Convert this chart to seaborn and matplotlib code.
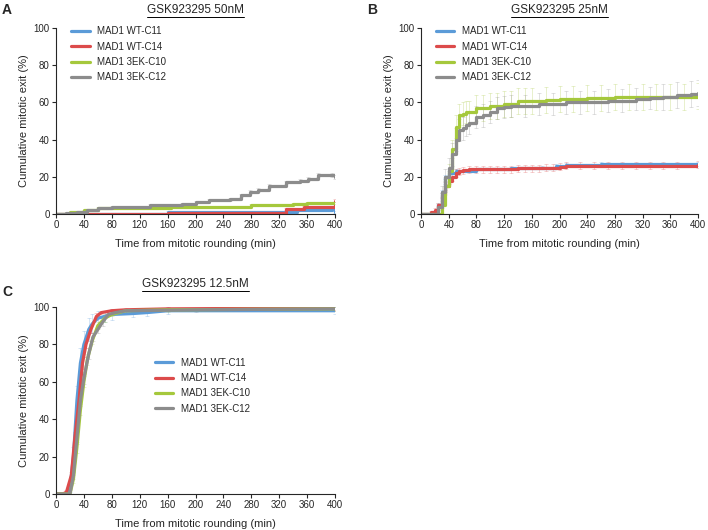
import numpy as np
import pandas as pd
import matplotlib
matplotlib.use("Agg")
import matplotlib.pyplot as plt
import seaborn as sns
from matplotlib.lines import Line2D

# clone names and colours
clones = ["MAD1 WT-C11", "MAD1 WT-C14", "MAD1 3EK-C10", "MAD1 3EK-C12"]
colors = ["#5b9bd8", "#dc4b4b", "#a5c83c", "#8c8c8c"]

# panel A: 50nM (time, cumulative %)
a_t = {
    "MAD1 WT-C11": [0, 150, 160, 345, 395, 400],
    "MAD1 WT-C14": [0, 160, 240, 330, 355, 395, 400],
    "MAD1 3EK-C10": [0, 20, 40, 60, 165, 240, 280, 340, 360, 400],
    "MAD1 3EK-C12": [0, 15, 30, 45, 60, 80, 135, 180, 200, 220, 250, 265, 278, 290, 305, 330, 350, 362, 375, 395, 400],
}
a_y = {
    "MAD1 WT-C11": [0, 0, 1, 2, 3, 1],
    "MAD1 WT-C14": [0, 0.3, 0.8, 2.5, 4, 4, 7],
    "MAD1 3EK-C10": [0, 1, 2, 3, 3.5, 4, 5, 5.5, 6, 6],
    "MAD1 3EK-C12": [0, 0.5, 1, 2, 3, 4, 5, 5.5, 6.5, 7.5, 8, 10, 12, 13, 15, 17, 18, 19, 21, 21, 20],
}
a_err = {
    "MAD1 WT-C11": [0, 0, 0.5, 0.5, 0.5, 0.5],
    "MAD1 WT-C14": [0, 0.3, 0.3, 0.5, 0.5, 0.5, 0.8],
    "MAD1 3EK-C10": [0, 0.3, 0.3, 0.4, 0.4, 0.5, 0.5, 0.5, 0.5, 0.5],
    "MAD1 3EK-C12": [0, 0.3, 0.3, 0.4, 0.5, 0.5, 0.6, 0.6, 0.7, 0.7, 0.8, 0.8, 1, 1, 1, 1, 1, 1, 1, 1, 1],
}

# panel B: 25nM
b_t = {
    "MAD1 WT-C11": [0, 20, 25, 30, 35, 40, 50, 80, 130, 175, 195, 210, 260, 400],
    "MAD1 WT-C14": [0, 10, 15, 20, 25, 30, 35, 40, 45, 50, 55, 60, 70, 80, 90, 100, 110, 120, 130, 140, 150,
                    160, 170, 180, 190, 200, 210, 230, 250, 270, 290, 310, 330, 350, 370, 400],
    "MAD1 3EK-C10": [0, 25, 30, 35, 40, 45, 50, 55, 60, 65, 70, 80, 90, 100, 110, 120, 130, 140, 150, 160,
                     180, 200, 220, 240, 260, 280, 300, 320, 340, 360, 380, 400],
    "MAD1 3EK-C12": [0, 20, 25, 30, 35, 40, 45, 50, 55, 60, 65, 70, 80, 90, 100, 110, 120, 130, 150, 170,
                     190, 210, 230, 250, 270, 290, 310, 330, 350, 370, 390, 400],
}
b_y = {
    "MAD1 WT-C11": [0, 0, 5, 12, 20, 22, 23, 24, 24.5, 25, 26, 26.5, 27, 27],
    "MAD1 WT-C14": [0, 0, 1, 2, 5, 10, 15, 18, 20, 22, 23, 23.5, 24, 24, 24, 24, 24, 24, 24, 24.5, 24.5,
                    24.5, 24.5, 25, 25, 25.5, 26, 26, 26, 26, 26, 26, 26, 26, 26, 26.5],
    "MAD1 3EK-C10": [0, 0, 5, 15, 23, 35, 47, 53, 54, 55, 55, 57, 57, 58, 58, 59, 59, 60.5, 61, 61,
                     61.5, 62, 62, 62.5, 62.5, 63, 63, 63, 63, 63, 63, 63.5],
    "MAD1 3EK-C12": [0, 0, 4, 12, 20, 25, 32, 40, 45, 46, 48, 49, 52, 53, 55, 57, 57.5, 58, 58, 59,
                     59, 60, 60, 60, 61, 61, 62, 62.5, 63, 64, 64.5, 65],
}
b_err = {
    "MAD1 WT-C11": [0, 0, 0.5, 0.8, 1, 1, 1, 1, 1, 1, 1, 1, 1, 1],
    "MAD1 WT-C14": [0, 0, 0.5, 1, 1, 1.5, 2, 2, 2, 2, 2, 2, 2, 2, 2, 2, 2, 2, 2, 2, 2,
                    2, 2, 2, 2, 2, 2, 2, 2, 2, 2, 2, 2, 2, 2, 2],
    "MAD1 3EK-C10": [0, 0, 2, 3, 4, 5, 6, 6, 6, 6, 6, 7, 7, 7, 7, 7, 7, 7, 7, 7,
                     7, 7, 7, 7, 7, 7, 7, 7, 7, 7, 7, 7],
    "MAD1 3EK-C12": [0, 0, 2, 3, 4, 5, 6, 6, 6, 6, 6, 6, 6, 6, 6, 6, 6, 6, 6, 6,
                     6, 6, 6, 6, 6, 6, 6, 6, 7, 7, 7, 7],
}

# panel C: 12.5nM
c_t = {
    "MAD1 WT-C11": [0, 15, 20, 25, 30, 35, 40, 47, 52, 60, 70, 80, 110, 130, 160, 400],
    "MAD1 WT-C14": [0, 10, 15, 22, 27, 33, 38, 43, 50, 58, 65, 80, 100, 160, 400],
    "MAD1 3EK-C10": [0, 20, 25, 30, 35, 40, 45, 52, 60, 70, 80, 90, 100, 160, 400],
    "MAD1 3EK-C12": [0, 20, 25, 30, 35, 40, 47, 53, 60, 67, 75, 85, 100, 200, 400],
}
c_y = {
    "MAD1 WT-C11": [0, 0, 3, 20, 50, 70, 80, 88, 91, 94, 95, 96, 96.5, 97, 98, 98],
    "MAD1 WT-C14": [0, 0, 1, 10, 30, 50, 70, 80, 88, 95, 97, 98, 98.5, 99, 99.5],
    "MAD1 3EK-C10": [0, 0, 8, 25, 45, 60, 72, 82, 90, 94, 96, 97, 98, 98.5, 99],
    "MAD1 3EK-C12": [0, 0, 10, 30, 50, 62, 75, 84, 88, 92, 96, 97, 98, 98.5, 99],
}
c_err = {
    "MAD1 WT-C11": [0, 0, 2, 5, 8, 8, 7, 6, 5, 4, 3, 3, 2, 2, 2, 2],
    "MAD1 WT-C14": [0, 0, 1, 2, 3, 3, 3, 2, 2, 2, 1, 1, 1, 1, 1],
    "MAD1 3EK-C10": [0, 0, 2, 3, 3, 3, 3, 2, 2, 2, 1, 1, 1, 1, 1],
    "MAD1 3EK-C12": [0, 0, 2, 3, 3, 3, 3, 2, 2, 2, 1, 1, 1, 1, 1],
}

sns.set_style("ticks")
plt.rcParams["font.family"] = ["Liberation Sans", "DejaVu Sans"]

fig = plt.figure(figsize=(7.08, 5.30), dpi=100)
W, H = 708, 530


def make_ax(x0, x1, ytop, ybot):
    return fig.add_axes([x0 / W, 1 - ybot / H, (x1 - x0) / W, (ybot - ytop) / H])


axA = make_ax(56, 335, 28, 214)
axB = make_ax(421, 698, 28, 214)
axC = make_ax(56, 335, 307, 494)


def draw_panel(ax, ts, ys, errs, steps, title, letter, legend_pos, title_off, letter_off):
    rows = []
    for name in clones:
        for t, v in zip(ts[name], ys[name]):
            rows.append({"time": t, "exit": v, "clone": name})
    df = pd.DataFrame(rows)
    # faint error bars with caps
    for name, col in zip(clones, colors):
        ax.errorbar(ts[name], ys[name], yerr=errs[name], fmt="none",
                    ecolor=col, alpha=0.3, elinewidth=0.6, capsize=1.5, capthick=0.6)
    kw = {"drawstyle": "steps-post"} if steps else {}
    sns.lineplot(data=df, x="time", y="exit", hue="clone", hue_order=clones,
                 palette=colors, linewidth=2.3, sort=False, estimator=None,
                 ax=ax, legend=False, **kw)
    ax.set_xlim(0, 400)
    ax.set_ylim(0, 100)
    ax.set_xticks(np.arange(0, 401, 40))
    ax.set_yticks(np.arange(0, 101, 20))
    ax.tick_params(labelsize=7, length=3, width=0.8, pad=1.5)
    ax.set_xlabel("Time from mitotic rounding (min)", fontsize=8, labelpad=6)
    ax.set_ylabel("Cumulative mitotic exit (%)", fontsize=8, labelpad=3)
    for s in ["left", "bottom"]:
        ax.spines[s].set_linewidth(0.8)
    sns.despine(ax=ax)
    handles = [Line2D([], [], color=c, lw=2.3) for c in colors]
    ax.legend(handles, clones, loc="upper left", bbox_to_anchor=legend_pos,
              frameon=False, fontsize=7, handlelength=1.9, handletextpad=0.75,
              labelspacing=0.55, borderaxespad=0)
    bb = ax.get_position()
    tx = fig.text((bb.x0 + bb.x1) / 2, bb.y1 + title_off / H, title, ha="center",
                  va="center", fontsize=8.5)
    fig.text(bb.x0 - 54 / W, bb.y1 + letter_off / H, letter, ha="left", va="center",
             fontsize=10, fontweight="bold")
    return tx


tA = draw_panel(axA, a_t, a_y, a_err, True, "GSK923295 50nM", "A", (0.04, 1.03), 18, 18)
tB = draw_panel(axB, b_t, b_y, b_err, True, "GSK923295 25nM", "B", (0.04, 1.03), 18, 18)
tC = draw_panel(axC, c_t, c_y, c_err, False, "GSK923295 12.5nM", "C", (0.34, 0.75), 23, 15)

# underline the titles
fig.canvas.draw()
r = fig.canvas.get_renderer()
for t in [tA, tB, tC]:
    e = t.get_window_extent(r).transformed(fig.transFigure.inverted())
    fig.add_artist(Line2D([e.x0, e.x1], [e.y0 - 1 / H, e.y0 - 1 / H],
                          color="black", lw=0.7, transform=fig.transFigure))

fig.savefig("out.png", dpi=100)
